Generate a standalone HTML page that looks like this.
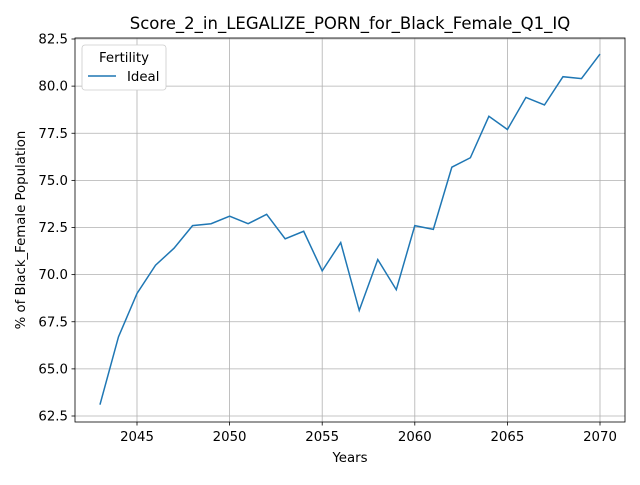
<!DOCTYPE html>
<html><head><meta charset="utf-8"><style>body{margin:0;background:#fff}svg{font-family:"DejaVu Sans","Liberation Sans",sans-serif}</style></head>
<body>
<svg id="c" width="640" height="480" xmlns="http://www.w3.org/2000/svg"></svg>
<script>
const years=[2043,2044,2045,2046,2047,2048,2049,2050,2051,2052,2053,2054,2055,2056,2057,2058,2059,2060,2061,2062,2063,2064,2065,2066,2067,2068,2069,2070];
const ideal=[63.1,66.7,69.0,70.5,71.4,72.6,72.7,73.1,72.7,73.2,71.9,72.3,70.2,71.7,68.1,70.8,69.2,72.6,72.4,75.7,76.2,78.4,77.7,79.4,79.0,80.5,80.4,81.7];
const xTicks=[2045,2050,2055,2060,2065,2070];
const yTicks=[62.5,65.0,67.5,70.0,72.5,75.0,77.5,80.0,82.5];
const L=75,R=625,T=38,B=422;
const x=v=>137+(v-2045)*(600-137)/25;
const y=v=>39+(82.5-v)*(416-39)/20;
const s=document.getElementById('c');const NS='http://www.w3.org/2000/svg';
function add(tag,a,txt){const e=document.createElementNS(NS,tag);for(const k in a)e.setAttribute(k,a[k]);if(txt!==undefined)e.textContent=txt;s.appendChild(e);return e;}
let e;
xTicks.forEach(t=>{
e=add('line',{x1:x(t),x2:x(t),y1:T,y2:B,stroke:'#b0b0b0','stroke-width':0.8});


add('line',{x1:x(t),x2:x(t),y1:B,y2:B+3.5,stroke:'#000','stroke-width':0.8});
e=add('text',{x:x(t),y:B+19,'font-size':13.3,'text-anchor':'middle'},t);


});
yTicks.forEach(t=>{
e=add('line',{x1:L,x2:R,y1:y(t),y2:y(t),stroke:'#b0b0b0','stroke-width':0.8});


add('line',{x1:L-3.5,x2:L,y1:y(t),y2:y(t),stroke:'#000','stroke-width':0.8});
e=add('text',{x:L-7,y:y(t)+4.5,'font-size':13.3,'text-anchor':'end'},t.toFixed(1));


});
e=add('polyline',{points:years.map((v,i)=>x(v)+','+y(ideal[i])).join(' '),fill:'none',stroke:'#1f77b4','stroke-width':1.5});


e=add('rect',{x:L,y:T,width:R-L,height:B-T,fill:'none',stroke:'#000','stroke-width':0.8});


e=add('text',{x:350,y:29,'font-size':16.5,'text-anchor':'middle'},'Score_2_in_LEGALIZE_PORN_for_Black_Female_Q1_IQ');


e=add('text',{x:350,y:462,'font-size':13.3,'text-anchor':'middle'},'Years');


e=add('text',{x:25,y:230,'font-size':13.3,'text-anchor':'middle',transform:'rotate(-90 25 230)'},'% of Black_Female Population');


e=add('rect',{x:82,y:45,width:84,height:45,rx:3,fill:'#fff',stroke:'#ccc','stroke-width':0.8});


add('text',{x:124,y:62,'font-size':13.3,'text-anchor':'middle'},'Fertility');
e=add('line',{x1:88,x2:116,y1:76,y2:76,stroke:'#1f77b4','stroke-width':1.5});


add('text',{x:127,y:81,'font-size':13.3},'Ideal');
</script>
</body></html>
